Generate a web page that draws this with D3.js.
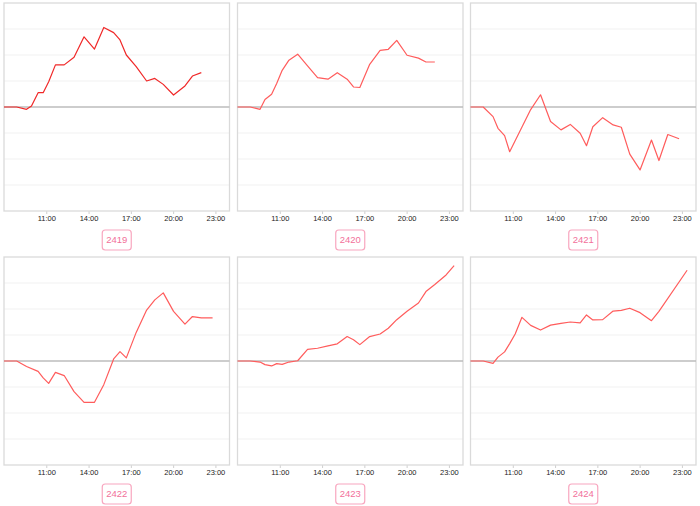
<!DOCTYPE html>
<html><head><meta charset="utf-8">
<script src="https://cdn.jsdelivr.net/npm/d3@7"></script>
<style>body{margin:0;background:#fff}svg{display:block}</style>
</head><body>
<script>
// shared sample times (hours)
const times = [8.0, 8.9, 9.6, 9.95, 10.42, 10.78, 11.17, 11.65, 12.27, 12.97, 13.68, 14.42, 15.08, 15.78, 16.23, 16.68, 17.38, 18.12, 18.7, 19.3, 20.03, 20.84, 21.37, 22.0, 22.8, 23.37];
const labels = ["2419", "2420", "2421", "2422", "2423", "2424"];
const s2419 = [0, 0, -0.09, 0.04, 0.55, 0.55, 0.97, 1.62, 1.62, 1.91, 2.70, 2.23, 3.06, 2.86, 2.58, 2.0, 1.55, 1.0, 1.10, 0.87, 0.46, 0.81, 1.19, 1.32, null, null];
const s2420 = [0, 0, -0.09, 0.29, 0.49, 0.90, 1.41, 1.80, 2.03, 1.58, 1.13, 1.07, 1.32, 1.07, 0.77, 0.75, 1.64, 2.18, 2.22, 2.56, 1.99, 1.88, 1.73, 1.73, null, null];
const s2421 = [0, 0, -0.37, -0.82, -1.10, -1.72, null, null, -0.10, 0.47, -0.56, -0.88, -0.67, -1.01, -1.49, -0.76, -0.41, -0.69, -0.78, -1.81, -2.42, -1.27, -2.06, -1.06, -1.22, null];
const s2422 = [0, 0, -0.21, null, -0.40, -0.65, -0.86, -0.44, -0.56, -1.18, -1.59, -1.59, -0.91, 0.08, 0.36, 0.12, 1.10, 1.96, 2.35, 2.62, 1.91, 1.42, 1.71, 1.66, 1.66, null];
const s2423 = [0, 0, -0.04, -0.14, -0.19, -0.10, -0.13, -0.04, 0.01, 0.45, 0.49, 0.58, 0.66, 0.94, 0.82, 0.63, 0.94, 1.04, 1.26, 1.59, 1.91, 2.23, 2.67, 2.94, 3.31, 3.67];
const s2424 = [0, 0, -0.09, 0.15, 0.35, 0.67, 1.04, 1.68, 1.37, 1.19, 1.38, 1.45, 1.50, 1.47, 1.77, 1.58, 1.59, 1.92, 1.95, 2.03, 1.86, 1.55, 1.91, null, null, 3.49];
const seriesList = [s2419, s2420, s2421, s2422, s2423, s2424];
const tickHours = [11, 14, 17, 20, 23];
const gridValues = [-3, -2, -1, 1, 2, 3];

const W = 700, H = 506;
const svg = d3.select("body").append("svg").attr("width", W).attr("height", H);

const colX = [4, 237.5, 470.5], rowY = [3, 257];
const pw = 225.5, ph = 208;

seriesList.forEach((vals, i) => {
  const x0 = colX[i % 3], y0 = rowY[Math.floor(i / 3)];
  const g = svg.append("g").attr("transform", `translate(${x0},${y0})`);
  const x = d3.scaleLinear().domain([8, 24]).range([0, pw]);
  const y = d3.scaleLinear().domain([-4, 4]).range([ph, 0]);

  // grid
  g.selectAll("line.grid").data(gridValues).join("line")
    .attr("x1", 0).attr("x2", pw)
    .attr("y1", d => y(d)).attr("y2", d => y(d))
    .attr("stroke", "#f1f1f1").attr("stroke-width", 1);

  // axis
  const ax = g.append("g").attr("transform", `translate(0,${ph})`)
    .call(d3.axisBottom(x).tickValues(tickHours).tickFormat(h => `${h}:00`).tickSize(3).tickPadding(2));
  ax.select(".domain").remove();
  ax.selectAll(".tick line").attr("stroke", "#cfcfcf");
  ax.selectAll(".tick text").attr("fill", "#222").style("font-family", "'Liberation Sans', Arial, sans-serif").style("font-size", "7.5px");

  // border
  g.append("rect").attr("x", 0).attr("y", 0).attr("width", pw).attr("height", ph)
    .attr("fill", "none").attr("stroke", "#dadada").attr("stroke-width", 1.3);

  // zero line
  g.append("line").attr("x1", 0).attr("x2", pw).attr("y1", y(0)).attr("y2", y(0))
    .attr("stroke", "#bdbdbd").attr("stroke-width", 1.5);

  // series line
  const pts = times.map((t, k) => [t, vals[k]]).filter(d => d[1] !== null);
  g.append("path").datum(pts)
    .attr("d", d3.line().x(d => x(d[0])).y(d => y(d[1])))
    .attr("fill", "none")
    .attr("stroke", i === 0 ? "#f02828" : "#ff5c5c")
    .attr("stroke-width", 1.2).attr("stroke-linejoin", "round");

  // label box
  const cx = pw / 2;
  const lb = g.append("g").attr("transform", `translate(${cx},${ph + 29})`);
  lb.append("rect").attr("x", -14.5).attr("y", -10).attr("width", 29).attr("height", 20)
    .attr("rx", 3).attr("fill", "#fff").attr("stroke", "#f8a6bf").attr("stroke-width", 1.2);
  lb.append("text").text(labels[i]).attr("text-anchor", "middle").attr("dy", "0.35em")
    .attr("fill", "#f2709a").style("font-family", "'Liberation Sans', Arial, sans-serif").style("font-size", "9.5px");
});
</script>
</body></html>
